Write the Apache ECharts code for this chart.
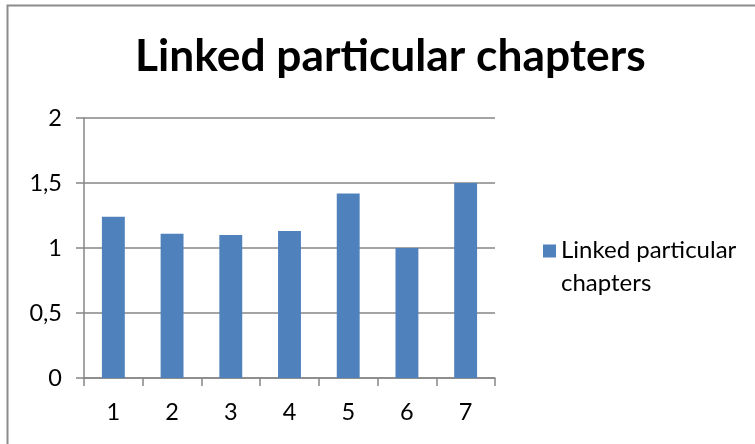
<!DOCTYPE html>
<html>
<head>
<meta charset="utf-8">
<script src="https://cdn.jsdelivr.net/npm/echarts@6/dist/echarts.min.js"></script>
<style>
html,body{margin:0;padding:0;background:#fff;}
#chart{width:755px;height:444px;}
</style>
</head>
<body>
<div id="chart"></div>
<script>
const categories = ['1', '2', '3', '4', '5', '6', '7'];
const seriesName = 'Linked particular chapters';
const values = [1.24, 1.11, 1.10, 1.13, 1.42, 1.0, 1.5];
const yTicks = [0, 0.5, 1, 1.5, 2];
const titleText = 'Linked particular chapters';

const chart = echarts.init(document.getElementById('chart'));
const gray = '#868686';
chart.setOption({
  animation: false,
  backgroundColor: '#fff',
  graphic: [{
    type: 'rect', silent: true,
    shape: { x: 7.5, y: 5.5, width: 800, height: 500 },
    style: { fill: 'none', stroke: '#8c8c8c', lineWidth: 2 }
  }],
  title: {
    text: titleText,
    left: 130, top: 30,
    textStyle: { fontFamily: 'Lato', fontWeight: 'bold', fontSize: 44.3, color: '#000' }
  },
  legend: {
    show: true,
    left: 538, top: 229,
    orient: 'vertical',
    itemWidth: 13, itemHeight: 45,
    itemGap: 0,
    icon: 'path://M0,0L13,0L13,13L0,13Z M0,45L0.01,45L0.01,45.01Z',
    formatter: function () { return 'Linked particular\nchapters'; },
    textStyle: { fontFamily: 'Lato', fontSize: 24, color: '#000', lineHeight: 33 },
    data: [seriesName]
  },
  grid: { left: 84, right: 260, top: 118, bottom: 66, containLabel: false },
  xAxis: {
    type: 'category',
    data: categories,
    axisLine: { lineStyle: { color: gray, width: 1.5 } },
    axisTick: { show: true, length: 8, lineStyle: { color: gray, width: 1.5 } },
    axisLabel: { margin: 22, fontFamily: 'Lato', fontSize: 23.5, color: '#000' },
    splitLine: { show: false }
  },
  yAxis: {
    type: 'value',
    min: yTicks[0], max: yTicks[yTicks.length - 1], interval: 0.5,
    axisLine: { show: true, lineStyle: { color: gray, width: 1.5 } },
    axisTick: { show: true, length: 8, lineStyle: { color: gray, width: 1.5 } },
    axisLabel: {
      margin: 22, fontFamily: 'Lato', fontSize: 23.5, color: '#000',
      formatter: function (v) { return String(v).replace('.', ','); }
    },
    splitLine: { show: true, lineStyle: { color: gray, width: 1.5 } }
  },
  series: [{
    name: seriesName,
    type: 'bar',
    data: values,
    barCategoryGap: '61%',
    itemStyle: { color: '#4F81BD' }
  }]
});
</script>
</body>
</html>
